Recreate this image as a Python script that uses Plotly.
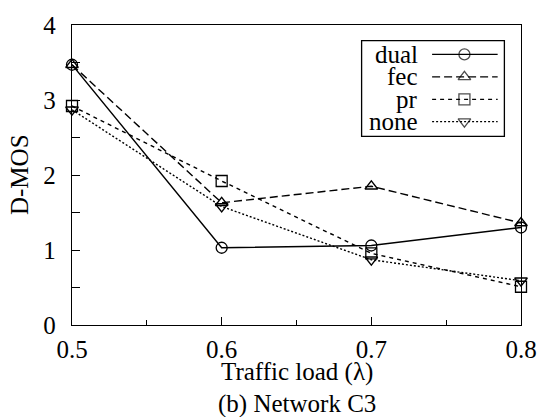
import plotly.graph_objects as go

x_load = [0.5, 0.6, 0.7, 0.8]
dual = [3.47, 1.03, 1.06, 1.30]
fec = [3.47, 1.63, 1.85, 1.36]
pr = [2.92, 1.92, 0.955, 0.51]
none = [2.87, 1.58, 0.87, 0.59]

series_names = ["dual", "fec", "pr", "none"]
series_vals = [dual, fec, pr, none]
symbols = ["circle-open", "triangle-up-open", "square-open", "triangle-down-open"]
dashes = ["solid", "8px,4px", "4px,4px", "2px,2px"]

FONT = "Liberation Serif"
fig = go.Figure()

for name, vals, sym, dsh in zip(series_names, series_vals, symbols, dashes):
    fig.add_trace(go.Scatter(
        x=x_load, y=vals, mode="lines+markers", name=name,
        line=dict(color="black", width=1.4, dash=dsh),
        marker=dict(symbol=sym, size=11, color="black", line=dict(color="black", width=1.3)),
        showlegend=False, cliponaxis=False))

# custom legend (label on the left, line sample on the right)
leg_rows = [0.902, 0.827, 0.752, 0.678]
fig.add_shape(type="rect", xref="paper", yref="paper", x0=0.645, x1=0.963, y0=0.629, y1=0.948,
              line=dict(color="black", width=1.3), fillcolor="white", layer="below")
for name, sym, dsh, ry in zip(series_names, symbols, dashes, leg_rows):
    fig.add_trace(go.Scatter(
        x=[0.802, 0.874, 0.948], y=[ry, ry, ry], xaxis="x2", yaxis="y2",
        mode="lines+markers", showlegend=False, hoverinfo="skip",
        line=dict(color="black", width=1.4, dash=dsh),
        marker=dict(symbol=sym, size=[0, 11, 0], color="black", line=dict(color="black", width=1.3))))
    fig.add_annotation(x=0.775, y=ry, xref="paper", yref="paper", text=name, showarrow=False,
                       xanchor="right", yanchor="middle", font=dict(family=FONT, size=25, color="black"))

fig.add_annotation(x=0.5, y=-0.158, xref="paper", yref="paper", text="Traffic load (λ)", showarrow=False,
                   xanchor="center", yanchor="middle", font=dict(family=FONT, size=25, color="black"))
fig.add_annotation(x=0.5, y=-0.262, xref="paper", yref="paper", text="(b) Network C3", showarrow=False,
                   xanchor="center", yanchor="middle", font=dict(family=FONT, size=25, color="black"))
fig.add_annotation(x=-0.118, y=0.5, xref="paper", yref="paper", text="D-MOS", showarrow=False,
                   textangle=-90, xanchor="center", yanchor="middle",
                   font=dict(family=FONT, size=25, color="black"))

fig.update_layout(
    width=549, height=417,
    margin=dict(l=72, r=18, t=18, b=92),
    paper_bgcolor="white", plot_bgcolor="white",
    font=dict(family=FONT, size=25, color="black"),
    xaxis=dict(range=[0.5, 0.8], tickvals=[0.5, 0.6, 0.7, 0.8], ticktext=["0.5", "0.6", "0.7", "0.8"],
               ticks="inside", ticklen=8, tickwidth=1.2, tickcolor="black",
               minor=dict(tickvals=[0.55, 0.65, 0.75], ticks="inside", ticklen=5, tickcolor="black"),
               showline=True, linecolor="black", linewidth=1.4, mirror=True,
               showgrid=False, zeroline=False, ticklabelstandoff=2,
               tickfont=dict(family=FONT, size=25, color="black")),
    yaxis=dict(range=[0, 4], tickvals=[0, 1, 2, 3, 4],
               ticks="inside", ticklen=8, tickwidth=1.2, tickcolor="black",
               minor=dict(tickvals=[0.5, 1.5, 2.5, 3.5], ticks="inside", ticklen=8, tickcolor="black"),
               showline=True, linecolor="black", linewidth=1.4, mirror=True,
               showgrid=False, zeroline=False, ticklabelstandoff=10,
               tickfont=dict(family=FONT, size=25, color="black")),
    xaxis2=dict(range=[0, 1], overlaying="x", visible=False, fixedrange=True),
    yaxis2=dict(range=[0, 1], overlaying="y", visible=False, fixedrange=True),
)

fig.write_html("out.html")
